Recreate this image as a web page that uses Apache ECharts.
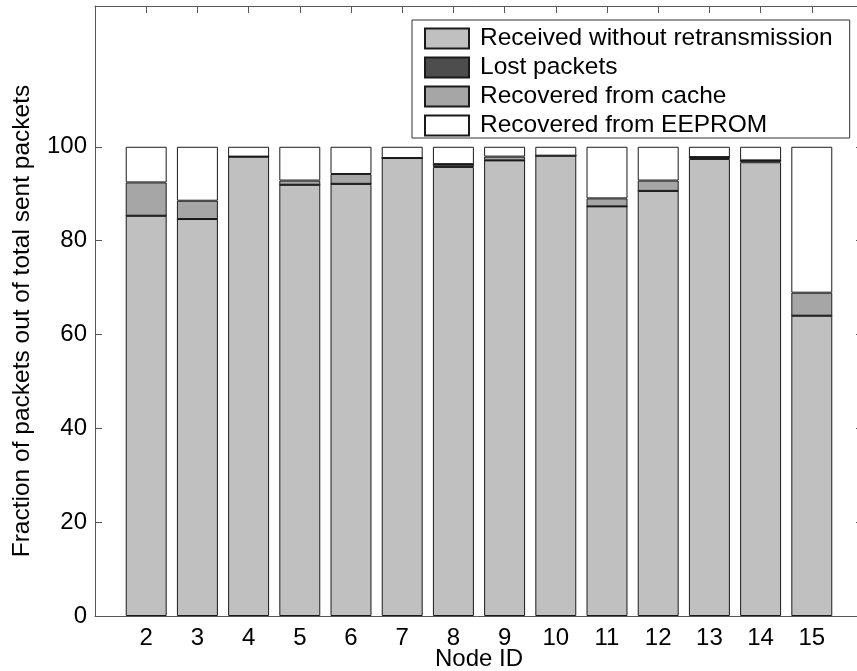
<!DOCTYPE html>
<html>
<head>
<meta charset="utf-8">
<script src="https://cdn.jsdelivr.net/npm/echarts@6/dist/echarts.min.js"></script>
<style>
html,body{margin:0;padding:0;background:#fff;}
#chart{width:857px;height:671px;}
</style>
</head>
<body>
<div id="chart"></div>
<script>
var categories = ['2','3','4','5','6','7','8','9','10','11','12','13','14','15'];
var received = [85.3, 84.6, 97.9, 91.9, 92.1, 97.6, 95.7, 97.1, 98.1, 87.3, 90.6, 97.4, 96.7, 64.0];
var lost     = [0, 0, 0, 0, 0, 0, 0.6, 0, 0, 0, 0, 0.4, 0.4, 0];
var cache    = [7.1, 3.9, 0, 0.9, 2.1, 0, 0, 0.8, 0, 1.7, 2.2, 0, 0, 4.9];
var eeprom   = [7.6, 11.5, 2.1, 7.2, 5.8, 2.4, 3.7, 2.1, 1.9, 11.0, 7.2, 2.2, 2.9, 31.1];
var yTicks = [0, 20, 40, 60, 80, 100];

var FONT = '"Liberation Sans", Arial, sans-serif';
var axisData = [''].concat(categories).concat(['']);
function pad(arr){ return [null].concat(arr).concat([null]); }

function mk(name, data, color){
  return {
    name: name, type: 'bar', stack: 'all', data: pad(data),
    barWidth: '80%',
    itemStyle: {color: color, borderColor: '#1a1a1a', borderWidth: 1},
    emphasis: {disabled: true}
  };
}

var chart = echarts.init(document.getElementById('chart'), null, {renderer: 'canvas'});
chart.setOption({
  animation: false,
  backgroundColor: '#fff',
  textStyle: {fontFamily: FONT},
  grid: {left: 95, top: 6, width: 768, height: 610, containLabel: false, outerBoundsMode: 'none'},
  legend: {
    orient: 'vertical', left: 412, top: 20,
    icon: 'rect',
    itemWidth: 44, itemHeight: 20, itemGap: 4,
    padding: [6, 17, 0, 12],
    backgroundColor: '#fff', borderColor: '#333', borderWidth: 1, borderRadius: 0,
    textStyle: {fontSize: 24.5, color: '#000', fontFamily: FONT, padding: [0,0,0,6]},
    data: ['Received without retransmission', 'Lost packets', 'Recovered from cache', 'Recovered from EEPROM']
  },
  xAxis: [{
    type: 'category', data: axisData, boundaryGap: false, position: 'bottom',
    name: 'Node ID', nameLocation: 'middle', nameGap: 31, nameMoveOverlap: false,
    nameTextStyle: {fontSize: 24, color: '#000', fontFamily: FONT, verticalAlign: 'top'},
    axisLine: {onZero: false, lineStyle: {color: '#555', width: 1}},
    axisTick: {inside: true, length: 7, lineStyle: {color: '#555'}, interval: 0},
    axisLabel: {interval: 0, fontSize: 24, color: '#000', margin: 10, fontFamily: FONT},
    splitLine: {show: false}
  }, {
    type: 'category', data: axisData, boundaryGap: false, position: 'top',
    axisLine: {show: true, onZero: false, lineStyle: {color: '#555', width: 1}},
    axisTick: {show: true, inside: true, length: 7, lineStyle: {color: '#555'}, interval: 0},
    axisLabel: {show: false},
    splitLine: {show: false}
  }],
  yAxis: [{
    type: 'value', min: 0, max: 130, interval: 10,
    name: 'Fraction of packets out of total sent packets', nameLocation: 'middle', nameGap: 60,
    nameTextStyle: {fontSize: 24.5, color: '#000', fontFamily: FONT, padding: [0, 20, 0, 0]},
    axisLine: {show: true, onZero: false, lineStyle: {color: '#555', width: 1}},
    axisTick: {show: true, inside: true, length: 7, lineStyle: {color: '#555'}, customValues: yTicks},
    axisLabel: {fontSize: 24, color: '#000', margin: 8, fontFamily: FONT, customValues: yTicks},
    splitLine: {show: false}
  }, {
    type: 'value', min: 0, max: 130, interval: 10, position: 'right',
    axisLine: {show: true, onZero: false, lineStyle: {color: '#555', width: 1}},
    axisTick: {show: true, inside: true, length: 7, lineStyle: {color: '#555'}, customValues: yTicks},
    axisLabel: {show: false},
    splitLine: {show: false}
  }],
  series: [
    mk('Received without retransmission', received, '#c0c0c0'),
    mk('Lost packets', lost, '#4d4d4d'),
    mk('Recovered from cache', cache, '#a6a6a6'),
    mk('Recovered from EEPROM', eeprom, '#ffffff')
  ]
});
</script>
</body>
</html>
